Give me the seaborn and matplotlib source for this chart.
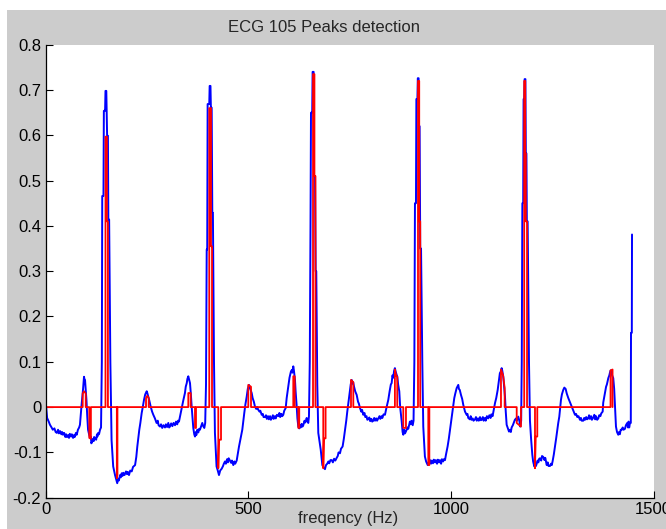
import matplotlib
matplotlib.use("Agg")
import matplotlib.pyplot as plt
import seaborn as sns
from matplotlib.patches import Rectangle

# ECG 105 signal (blue): sample index / amplitude
ecg_x = [0, 2, 4, 8, 11, 15, 18, 22, 25, 28, 31, 33, 36, 39, 41, 43, 46, 49, 51, 53, 56, 58, 60, 63, 65, 68, 70, 72, 75, 77, 80, 83, 85,
         89, 92.5, 94, 95, 96, 97.5, 99, 101, 103, 105, 108, 110, 112, 113, 115, 117, 119, 120, 123, 125, 127, 128, 130, 132, 134.5, 137,
         139, 140, 143, 144, 147, 148, 150, 152, 154, 155, 157, 160, 163, 167, 171.5, 174, 177, 179, 181, 184, 186, 188, 190, 192, 195,
         198.6, 201, 203, 206, 209, 212.7, 216, 221, 224, 226.5, 231.4, 234, 237.3, 240, 243, 246, 249.7, 251.5, 253.6, 256, 259.5, 263,
         266, 270, 274, 277, 279, 282.5, 285, 288, 291, 294.8, 297, 300, 303, 305, 307, 310, 313, 316, 319.5, 322, 325, 327, 329.3, 332,
         336, 340, 344, 346, 348.5, 350, 352.3, 354, 356.5, 358.5, 360.7, 364.6, 367, 368.8, 371, 372, 374.5, 377, 379, 381, 384, 386.8,
         389, 391.8, 394,
         396, 397.7, 399, 400, 404, 405, 407, 408, 410, 411.5, 413, 415.7, 418, 422, 425, 428, 431, 434.7, 438, 440, 442.8, 445, 448, 450,
         452, 455, 458, 460, 463.3, 466, 468, 471.7, 474, 477.4, 481, 485.5, 488, 490.4, 493, 496.4, 499, 502, 504, 506, 508.7, 511, 514,
         516.8, 520, 522, 525, 528, 530, 533.4, 536, 538, 541.5, 544, 546, 549, 551, 554, 556, 558, 561, 563, 566, 568, 571, 574.3, 577,
         579, 582, 584, 586.6, 589, 592.6, 595, 599, 602, 605.6, 608, 609, 611.3, 613, 615.5, 617, 619.7, 621.5, 623.7, 626, 628, 629.6,
         632, 634, 636, 639, 641, 644.4, 646, 648.3, 650,
         652, 653.8, 655, 658, 659, 661.5, 662.5, 665, 666.5, 668, 670.5, 673, 676, 679, 681, 683, 686, 689.5, 692, 695, 698, 700, 703,
         706, 709, 712, 715, 718.4, 721, 723, 726.5, 729, 733, 736, 739, 742, 744.5, 748, 751, 753, 755.4, 757, 759, 761, 764, 767.7, 771,
         773, 775.9, 779, 781, 784, 787, 789, 792, 794, 796, 799, 801, 804, 806, 808.7, 811, 813, 816, 818, 821, 824, 826, 829, 831, 834,
         837.5, 841, 845.7, 849, 852, 854, 856, 858, 860, 862, 864, 866, 868, 870, 872.8, 875, 878.8, 881, 882.7, 885, 887, 891, 893, 895,
         899, 901, 903, 906, 908,
         910, 911.5, 914, 915, 917.5, 918.5, 920.5, 921.5, 923, 924.5, 926.5, 929.6, 932, 936, 939, 943, 946, 948.6, 951, 953, 956, 958,
         961, 963, 966, 968, 971, 973, 976, 978, 981, 983, 985.6, 988, 992, 995, 998, 1001, 1003.6, 1006, 1008.5, 1011, 1014.4, 1016,
         1018.4, 1020, 1022, 1025, 1028, 1030.7, 1033, 1035, 1039, 1041, 1043, 1047, 1049, 1051, 1054, 1056, 1059.6, 1062, 1064, 1067,
         1069, 1072, 1074, 1076, 1079, 1081, 1084, 1086, 1089, 1092, 1095, 1098, 1100, 1103, 1106, 1109, 1112, 1115.6, 1118, 1121, 1123,
         1125.4, 1127, 1129.4, 1131.5, 1133.6, 1135.5, 1137.7, 1140, 1143.5, 1146, 1148, 1150, 1153, 1155, 1158, 1161, 1163, 1166.4,
         1169, 1171.3, 1173.5,
         1175, 1176.5, 1178.5, 1179.5, 1181, 1182, 1184, 1185, 1186.5, 1187.5, 1189.5, 1192.8, 1195.2, 1198, 1201, 1203, 1206, 1208,
         1210, 1211.8, 1214, 1216, 1218, 1220, 1223, 1225, 1228, 1231, 1233, 1236.5, 1239, 1241, 1244.6, 1247, 1249, 1251, 1254, 1257,
         1260, 1262.6, 1265, 1267.6, 1270, 1271.7, 1274, 1277.4, 1280, 1283.3, 1286, 1289.8, 1292, 1294, 1298, 1301, 1303, 1306.3, 1309,
         1312, 1315, 1318.6, 1321, 1323, 1326.7, 1329, 1331, 1334, 1336, 1339, 1341, 1343, 1346, 1348, 1351.4, 1354, 1356, 1358, 1361,
         1363.8, 1366, 1369, 1371, 1374.6, 1376, 1378, 1380.3, 1383, 1385, 1388.5, 1391, 1392.5, 1394.4, 1396, 1398, 1400.7, 1403, 1405,
         1407.4, 1410, 1413, 1415, 1417, 1419, 1421.5, 1424, 1426, 1429.5, 1432, 1435.3, 1437, 1438.5, 1440, 1442, 1444, 1444.5, 1446.5,
         1447]
ecg_y = [0.016, -0.005, -0.024, -0.032, -0.039, -0.045, -0.05, -0.047, -0.055, -0.057, -0.05, -0.058, -0.053, -0.06, -0.055, -0.061,
         -0.057, -0.066, -0.06, -0.066, -0.062, -0.068, -0.059, -0.065, -0.06, -0.068, -0.062, -0.066, -0.057, -0.061, -0.05, -0.045,
         -0.039,
         0.005, 0.038, 0.055, 0.067, 0.062, 0.06, 0.04, 0.016, -0.02, -0.05, -0.062, -0.068, -0.065, -0.08, -0.077, -0.07, -0.075, -0.066,
         -0.07, -0.072, -0.06, -0.065, -0.057, -0.06, -0.05, -0.045,
         0.1, 0.466, 0.466, 0.654, 0.654, 0.698, 0.698, 0.599, 0.599, 0.414, 0.414, 0.1, -0.073, -0.131, -0.15, -0.158, -0.168, -0.158,
         -0.162, -0.15, -0.155, -0.146, -0.152, -0.145, -0.15,
         -0.142, -0.148, -0.143, -0.15, -0.14, -0.142, -0.132, -0.128, -0.11, -0.087, -0.05, -0.035, -0.013, 0.0, 0.016, 0.028, 0.035, 0.03,
         0.023, 0.015, 0.001, -0.01,
         -0.017, -0.025, -0.035, -0.03, -0.04, -0.043, -0.038, -0.046, -0.04, -0.045, -0.038, -0.044, -0.035, -0.045, -0.043, -0.036,
         -0.042, -0.035, -0.04, -0.032, -0.038, -0.03, -0.032, -0.02,
         -0.002, 0.015, 0.031, 0.045, 0.053, 0.062, 0.068, 0.062, 0.053, 0.03, 0.0, -0.046, -0.06, -0.065, -0.055, -0.062, -0.05, -0.056,
         -0.048, -0.05, -0.042, -0.035,
         -0.042, -0.046, -0.035,
         0.05, 0.348, 0.348, 0.669, 0.669, 0.709, 0.709, 0.661, 0.661, 0.429, 0.429, 0.1, -0.057, -0.131, -0.14, -0.15, -0.14, -0.136,
         -0.13, -0.125, -0.12, -0.125, -0.115, -0.122,
         -0.113, -0.118, -0.123, -0.118, -0.128, -0.12, -0.125, -0.118, -0.105, -0.087, -0.07, -0.05, -0.03, -0.013, 0.005, 0.023, 0.04,
         0.049, 0.042, 0.038, 0.031, 0.02, 0.012,
         0.001, -0.004, 0.0, -0.006, -0.01, -0.008, -0.017, -0.015, -0.022, -0.022, -0.018, -0.026, -0.02, -0.027, -0.02, -0.028, -0.025,
         -0.018, -0.026, -0.02, -0.025, -0.017, -0.02, -0.013,
         -0.022, -0.015, -0.02, -0.017, -0.008, -0.002, 0.02, 0.046, 0.065, 0.079, 0.082, 0.076, 0.09, 0.08, 0.06, 0.035, 0.002, -0.025,
         -0.043, -0.047, -0.04, -0.045,
         -0.037, -0.043, -0.04, -0.03, -0.034, -0.024, -0.03, -0.035, -0.02,
         0.1, 0.4, 0.65, 0.65, 0.74, 0.74, 0.51, 0.51, 0.3, 0.3, 0.05, -0.057, -0.075, -0.094, -0.11, -0.128, -0.133, -0.137, -0.128,
         -0.125, -0.12, -0.124, -0.117,
         -0.117, -0.122, -0.114, -0.118, -0.112, -0.108, -0.1, -0.102, -0.092, -0.087, -0.07, -0.05, -0.03, -0.01, 0.015, 0.038, 0.05,
         0.06, 0.052, 0.055, 0.046, 0.035, 0.027, 0.012,
         0.008, -0.002, -0.01, -0.006, -0.017, -0.013, -0.022, -0.02, -0.028, -0.027, -0.023, -0.031, -0.026, -0.032, -0.03, -0.024,
         -0.03, -0.025, -0.03, -0.025, -0.02, -0.026, -0.02, -0.024, -0.016,
         -0.017, -0.002, 0.016, 0.035, 0.05, 0.053, 0.07, 0.065, 0.08, 0.086, 0.078, 0.072, 0.067, 0.05, 0.035, 0.0, -0.032, -0.055,
         -0.061, -0.05, -0.058, -0.05, -0.045, -0.048,
         -0.032, -0.038, -0.03, -0.04, -0.03,
         0.1, 0.45, 0.45, 0.68, 0.68, 0.726, 0.726, 0.62, 0.62, 0.35, 0.35, 0.1, -0.043, -0.109, -0.12, -0.128, -0.12, -0.117, -0.125,
         -0.118, -0.124, -0.116,
         -0.122, -0.117, -0.125, -0.116, -0.122, -0.117, -0.125, -0.115, -0.12, -0.115, -0.117, -0.105, -0.087, -0.07, -0.05, -0.03,
         -0.013, 0.005, 0.02, 0.03, 0.042, 0.045,
         0.049, 0.04, 0.038, 0.027, 0.018, 0.005, -0.003, -0.01, -0.017, -0.015, -0.024, -0.027, -0.02, -0.028, -0.025, -0.03, -0.027,
         -0.022, -0.03, -0.025,
         -0.03, -0.022, -0.029, -0.028, -0.022, -0.03, -0.024, -0.03, -0.02, -0.025, -0.018, -0.024, -0.016, -0.02, -0.005, 0.009, 0.02,
         0.038, 0.055, 0.075, 0.078,
         0.086, 0.08, 0.067, 0.045, 0.023, -0.01, -0.039, -0.045, -0.054, -0.05, -0.055, -0.045, -0.04, -0.035, -0.028, -0.025, -0.03,
         -0.021,
         -0.03, -0.043, -0.03,
         0.1, 0.45, 0.45, 0.68, 0.68, 0.724, 0.724, 0.56, 0.56, 0.41, 0.41, 0.1, -0.03, -0.07, -0.105, -0.12, -0.131, -0.125,
         -0.13, -0.125, -0.118, -0.122, -0.114, -0.113, -0.118, -0.108, -0.11, -0.117, -0.112, -0.128, -0.122, -0.13, -0.13, -0.125,
         -0.128, -0.12, -0.105, -0.087,
         -0.068, -0.05, -0.035, -0.021, 0.0, 0.016, 0.028, 0.038, 0.043, 0.04, 0.03, 0.02, 0.015, 0.01, 0.001, -0.005, -0.01, -0.017,
         -0.015,
         -0.022, -0.02, -0.028, -0.024, -0.03, -0.03, -0.024, -0.028, -0.022, -0.027, -0.025, -0.018, -0.026, -0.02, -0.028, -0.023,
         -0.017, -0.027, -0.02, -0.028,
         -0.025, -0.018, -0.02, -0.014, -0.01, 0.01, 0.02, 0.031, 0.045, 0.05, 0.064, 0.07, 0.076, 0.081, 0.075, 0.07, 0.064, 0.04, 0.0,
         -0.043, -0.055, -0.061, -0.055, -0.06, -0.05, -0.05, -0.045, -0.05, -0.048, -0.04, -0.035, -0.045, -0.032, -0.045, -0.035,
         -0.035, 0.164, 0.164,
         0.381]

# detected waves (red): signal kept inside detection windows, zero elsewhere
det_x = [0, 91.8, 91.8, 95, 99.2, 99.2, 108, 108, 112, 112, 148, 148, 151.5, 151.5, 154, 154, 176, 176, 177.5, 177.5,
         248, 248, 251, 254.6, 254.6, 352.3, 352.3, 358.2, 358.2, 368.8, 368.8, 371.3, 371.3,
         404, 404, 408.3, 408.3, 410.8, 410.8, 426.3, 426.3, 428, 433, 433, 500.3, 500.3, 507, 507,
         611.3, 611.3, 614.8, 614.8, 623.7, 623.7, 626, 626, 660, 660, 663.5, 663.5, 666, 666,
         685.3, 685.3, 687, 691, 691, 753.7, 753.7, 759.4, 759.4, 862, 862, 865, 867.8, 867.8, 882.7, 882.7, 889.3, 889.3,
         919, 919, 922, 922, 924.5, 924.5, 944.4, 944.4, 947, 947, 1123.7, 1123.7, 1129, 1132.8, 1132.8,
         1162.5, 1162.5, 1173, 1173, 1181, 1181, 1183.5, 1183.5, 1185, 1185, 1188, 1188,
         1207.6, 1207.6, 1209.5, 1213.3, 1213.3, 1394, 1394, 1399, 1399]
det_y = [0, 0, 0.03, 0.035, 0.03, 0, 0, -0.068, -0.07, 0, 0, 0.597, 0.597, 0.41, 0.41, 0, 0, -0.157, -0.15, 0,
         0, 0.02, 0.025, 0.02, 0, 0, 0.031, 0.031, 0, 0, -0.046, -0.046, 0,
         0, 0.66, 0.66, 0.355, 0.355, 0, 0, -0.135, -0.072, -0.072, 0, 0, 0.049, 0.045, 0,
         0, 0.068, 0.068, 0, 0, -0.046, -0.046, 0, 0, 0.735, 0.735, 0.51, 0.51, 0,
         0, -0.135, -0.069, -0.069, 0, 0, 0.06, 0.055, 0, 0, 0.083, 0.07, 0.067, 0, 0, -0.046, -0.046, 0,
         0, 0.72, 0.72, 0.41, 0.41, 0, 0, -0.128, -0.128, 0, 0, 0.083, 0.07, 0.042, 0,
         0, -0.035, -0.043, 0, 0, 0.72, 0.72, 0.56, 0.56, 0.41, 0.41, 0,
         0, -0.135, -0.065, -0.065, 0, 0, 0.081, 0.083, 0]

xticks = [0, 500, 1000, 1500]
yticks = [-0.2, -0.1, 0, 0.1, 0.2, 0.3, 0.4, 0.5, 0.6, 0.7, 0.8]
ytick_labels = ["-0.2", "-0.1", "0", "0.1", "0.2", "0.3", "0.4", "0.5", "0.6", "0.7", "0.8"]

sns.set_style("ticks")
plt.rcParams["font.family"] = ["Liberation Sans", "DejaVu Sans"]

fig = plt.figure(figsize=(6.66, 5.29), dpi=100, facecolor="#cccccc")
# white margins of the screenshot
fig.patches.append(Rectangle((0, 1 - 10 / 529), 1, 10 / 529, transform=fig.transFigure,
                             facecolor="white", edgecolor="none", zorder=-1))
fig.patches.append(Rectangle((0, 0), 7 / 666, 1, transform=fig.transFigure,
                             facecolor="white", edgecolor="none", zorder=-1))

ax = fig.add_axes([45.5 / 666, 1 - 497.7 / 529, 608 / 666, 453 / 529])
ax.set_facecolor("white")

sns.lineplot(x=ecg_x, y=ecg_y, sort=False, estimator=None, color="#0000ff", linewidth=1.4, ax=ax)
sns.lineplot(x=det_x, y=det_y, sort=False, estimator=None, color="#ff0000", linewidth=1.3, ax=ax)

ax.set_xlim(0, 1500)
ax.set_ylim(-0.2, 0.8)
ax.set_xticks(xticks)
ax.set_xticklabels([str(t) for t in xticks])
ax.set_yticks(yticks)
ax.set_yticklabels(ytick_labels)
ax.tick_params(direction="in", length=5, width=0.8, labelsize=12, pad=3, colors="black")

for side in ["top", "right"]:
    ax.spines[side].set_visible(False)
for side in ["left", "bottom"]:
    ax.spines[side].set_color("black")
    ax.spines[side].set_linewidth(0.9)

ax.set_xlabel("freqency (Hz)", fontsize=12)
ax.xaxis.set_label_coords(0.498, -0.03)
ax.set_ylabel("")

fig.text(324 / 666, 1 - 27 / 529, "ECG 105 Peaks detection", ha="center", va="center", fontsize=12)

fig.savefig("out.png", dpi=100, facecolor=fig.get_facecolor())
